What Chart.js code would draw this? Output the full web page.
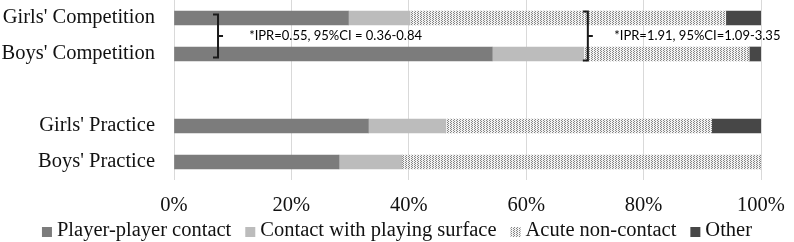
<!DOCTYPE html>
<html>
<head>
<meta charset="utf-8">
<script src="https://cdn.jsdelivr.net/npm/chart.js@4"></script>
<style>
  html, body { margin: 0; padding: 0; background: #fff; }
  #wrap { width: 794px; height: 242px; position: relative; }
</style>
</head>
<body>
<div id="wrap"><canvas id="chart"></canvas></div>
<script>
// groups (blank entry = gap between competition and practice)
const categories = ["Girls' Competition", "Boys' Competition", "", "Girls' Practice", "Boys' Practice"];

// % of injuries by mechanism
const playerContact = [29.7, 54.2, null, 33.1, 28.1];
const surfaceContact = [10.5, 15.6, null, 13.2, 10.7];
const acuteNonContact = [53.8, 28.2, null, 45.3, 61.2];
const otherMech = [6.0, 2.0, null, 8.4, 0];

const xTicks = [0, 20, 40, 60, 80, 100];

// brace annotations between the competition bars
const braceNotes = [
  { at: 7.5, textAt: 12.8, half: 21.5, text: "*IPR=0.55, 95%CI = 0.36-0.84" },
  { at: 70.5, textAt: 75.0, half: 24.5, text: "*IPR=1.91, 95%CI=1.09-3.35" }
];

const serif = "'Liberation Serif', 'Times New Roman', serif";
const serifSize = 20.5;

// dotted fill for acute non-contact
function makeDots() {
  const c = document.createElement("canvas");
  c.width = 3; c.height = 2;
  const g = c.getContext("2d");
  g.fillStyle = "#f2f2f2";
  g.fillRect(0, 0, 3, 2);
  g.fillStyle = "#858585";
  g.fillRect(0, 0, 1, 1);
  g.fillRect(1, 1, 1, 1);
  return g.createPattern(c, "repeat");
}
const dots = makeDots();

const braces = {
  id: "braces",
  afterDatasetsDraw(chart) {
    const { ctx, scales } = chart;
    const yMid = (scales.y.getPixelForValue(0) + scales.y.getPixelForValue(1)) / 2;
    ctx.save();
    braceNotes.forEach((n) => {
      const x = scales.x.getPixelForValue(n.at);
      const top = yMid - n.half, bot = yMid + n.half;
      ctx.strokeStyle = "#1a1a1a";
      ctx.lineWidth = 2;
      ctx.beginPath();
      ctx.moveTo(x - 5, top);
      ctx.lineTo(x, top);
      ctx.lineTo(x, bot);
      ctx.lineTo(x - 5, bot);
      ctx.moveTo(x, yMid);
      ctx.lineTo(x + 5, yMid);
      ctx.stroke();
      ctx.fillStyle = "#000";
      ctx.font = "13px Lato, 'Open Sans', sans-serif";
      ctx.textBaseline = "middle";
      ctx.textAlign = "left";
      ctx.fillText(n.text, scales.x.getPixelForValue(n.textAt), yMid);
    });
    ctx.restore();
  }
};

const bottomLegend = {
  id: "bottomLegend",
  afterDraw(chart) {
    const { ctx } = chart;
    const sets = chart.data.datasets;
    ctx.save();
    ctx.font = serifSize + "px " + serif;
    const box = 10, gap = 5, space = 14;
    const widths = sets.map((d) => box + gap + ctx.measureText(d.label).width);
    const total = widths.reduce((a, b) => a + b, 0) + space * (sets.length - 1);
    let x = (chart.width - total) / 2;
    const y = 231;
    sets.forEach((d, i) => {
      ctx.fillStyle = d.backgroundColor;
      ctx.fillRect(x, y - 4, box, box);
      ctx.fillStyle = "#111";
      ctx.textBaseline = "middle";
      ctx.fillText(d.label, x + box + gap, y);
      x += widths[i] + space;
    });
    ctx.restore();
  }
};

new Chart(document.getElementById("chart"), {
  type: "bar",
  data: {
    labels: categories,
    datasets: [
      { label: "Player-player contact", data: playerContact, backgroundColor: "#7c7c7c" },
      { label: "Contact with playing surface", data: surfaceContact, backgroundColor: "#bcbcbc" },
      { label: "Acute non-contact", data: acuteNonContact, backgroundColor: dots },
      { label: "Other", data: otherMech, backgroundColor: "#474747" }
    ]
  },
  options: {
    indexAxis: "y",
    responsive: true,
    maintainAspectRatio: false,
    animation: false,
    barThickness: 14,
    layout: { padding: { top: 0, right: 33, bottom: 25, left: 0 } },
    plugins: {
      legend: { display: false },
      tooltip: { enabled: false }
    },
    scales: {
      x: {
        stacked: true,
        min: 0,
        max: 100,
        afterBuildTicks: (s) => { s.ticks = xTicks.map((v) => ({ value: v })); },
        afterFit: (s) => { s.height = 37; s.paddingLeft = 0; s.paddingRight = 0; },
        ticks: {
          callback: (v) => v + "%",
          color: "#111",
          padding: 13,
          maxRotation: 0,
          font: { family: serif, size: serifSize }
        },
        grid: { color: "#d9d9d9", drawTicks: false },
        border: { display: false }
      },
      y: {
        stacked: true,
        afterFit: (s) => { s.width = 174; s.paddingTop = 0; s.paddingBottom = 0; },
        ticks: {
          color: "#111",
          padding: 19,
          font: { family: serif, size: serifSize }
        },
        grid: { display: false, drawTicks: false },
        border: { display: false }
      }
    }
  },
  plugins: [braces, bottomLegend]
});
</script>
</body>
</html>
